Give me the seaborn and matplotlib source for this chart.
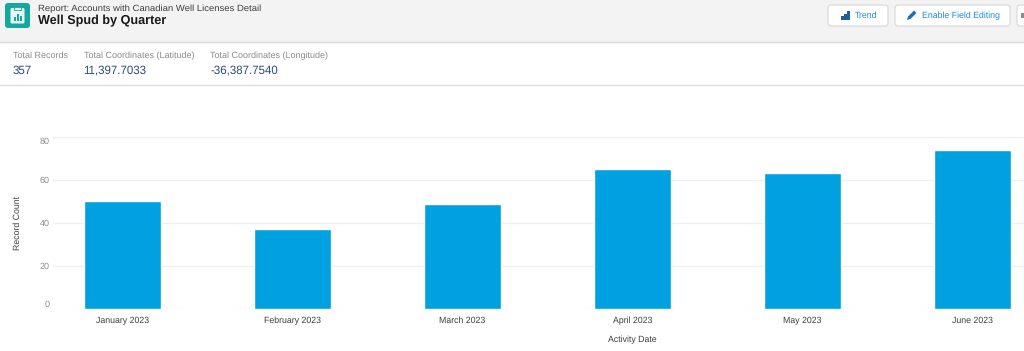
import matplotlib
matplotlib.use("Agg")
import matplotlib.pyplot as plt
from matplotlib.patches import FancyBboxPatch, Rectangle, Polygon
import seaborn as sns
import pandas as pd

months = ["January 2023", "February 2023", "March 2023", "April 2023", "May 2023", "June 2023"]
record_counts = [50, 37, 49, 65, 63, 74]
y_ticks = [0, 20, 40, 60, 80]
summary_labels = ["Total Records", "Total Coordinates (Latitude)", "Total Coordinates (Longitude)"]
summary_values = ["357", "11,397.7033", "-36,387.7540"]

sns.set_theme(style="white")
plt.rcParams["font.family"] = ["Liberation Sans", "DejaVu Sans"]
plt.rcParams["text.hinting"] = "no_hinting"
plt.rcParams["text.hinting_factor"] = 8

W, H = 1024, 351
fig = plt.figure(figsize=(W / 100, H / 100), dpi=100, facecolor="white")

# page chrome in pixel coordinates
ui = fig.add_axes([0, 0, 1, 1], zorder=0)
ui.set_xlim(0, W)
ui.set_ylim(H, 0)
ui.axis("off")
ui.add_patch(Rectangle((0, 0), W, 42, fc="#f3f3f3", ec="none"))
ui.plot([0, W], [42, 42], color="#dddbda", lw=1)
ui.plot([0, W], [85, 85], color="#dddbda", lw=1)

ui.add_patch(FancyBboxPatch((5, 3), 25, 25, boxstyle="round,pad=0,rounding_size=3", fc="#13a89e", ec="none"))
ui.add_patch(FancyBboxPatch((10.5, 8), 14, 15.5, boxstyle="round,pad=0,rounding_size=1.5", fc="#e8f7f5", ec="none"))
ui.add_patch(Rectangle((14, 6.5), 7, 3, fc="#e8f7f5", ec="#13a89e", lw=0.6))
for bx, bh in [(14, 4), (17, 7), (20, 5)]:
    ui.add_patch(Rectangle((bx, 20.5 - bh), 1.5, bh, fc="#13a89e", ec="none"))

ui.text(38.5, 8.5, "Report: Accounts with Canadian Well Licenses Detail", fontsize=6.8, color="#3e3e3c", va="center", ha="left")
ui.text(38.5, 20.8, "Well Spud by Quarter", fontsize=9.05, fontweight="bold", color="#1a1a1a", va="center", ha="left")

for x, lab, val in zip([13, 83.5, 210.5], summary_labels, summary_values):
    ui.text(x, 56, lab, fontsize=6.45, color="#8a8a8a", va="center", ha="left")
    ui.text(x, 70.5, val, fontsize=8.3, color="#2b4a7d", va="center", ha="left")

for x0, x1 in [(828, 888), (895, 1010), (1017, 1040)]:
    ui.add_patch(FancyBboxPatch((x0, 5), x1 - x0, 21, boxstyle="round,pad=0,rounding_size=3", fc="white", ec="#dddbda", lw=0.9))
ui.text(855, 16, "Trend", fontsize=6.3, color="#1b8ad8", va="center", ha="left")
ui.text(921.5, 16, "Enable Field Editing", fontsize=6.3, color="#1b8ad8", va="center", ha="left")
for bx, bh in [(841, 4), (844, 6), (847, 9)]:
    ui.add_patch(Rectangle((bx, 19.5 - bh), 2.6, bh, fc="#1f5f99", ec="none"))
ui.add_patch(Polygon([[907, 20], [908, 16.5], [914, 10.5], [916.5, 13], [910.5, 19]], fc="#1b72c0", ec="none"))
ui.add_patch(Rectangle((1021, 13), 3, 5, fc="#8a8a8a", ec="none"))

# chart
left, right, top, bottom = 53, 1024, 137, 308.7
ax = fig.add_axes([left / W, 1 - bottom / H, (right - left) / W, (bottom - top) / H], zorder=1)
ax.patch.set_alpha(0)
df = pd.DataFrame({"Activity Date": months, "Record Count": record_counts})
sns.barplot(data=df, x="Activity Date", y="Record Count", color="#00a1e0", saturation=1,
            width=0.453, ax=ax, zorder=3)
ax.set_xlim((left - 122.5) / 170, (right - 122.5) / 170)
ax.set_ylim(0, 80)
ax.set_yticks(y_ticks)
ax.set_yticklabels([str(t) for t in y_ticks])
ax.yaxis.grid(True, color="#ecf0f5", lw=1)
ax.xaxis.grid(False)
ax.set_axisbelow(True)
for s in ax.spines.values():
    s.set_visible(False)
ax.tick_params(axis="y", length=0, pad=2.5, labelsize=6.5, labelcolor="#8c8c8c")
ax.tick_params(axis="x", length=0, pad=10.5, labelsize=6.3, labelcolor="#3e3e3c")
for lab in ax.get_xticklabels():
    lab.set_va("baseline")
labels = ax.get_yticklabels()
labels[0].set_va("bottom")
labels[-1].set_va("top")
ax.set_xlabel("Activity Date", fontsize=6.3, color="#3e3e3c")
ax.set_ylabel("")
ui.text(18, 223, "Record Count", fontsize=6.3, color="#3e3e3c", rotation=90, va="center", ha="center")
ax.xaxis.set_label_coords((632.5 - left) / (right - left), -(339.5 - bottom) / (bottom - top))
ax.xaxis.label.set_va("center")

fig.savefig("out.png", dpi=100)
